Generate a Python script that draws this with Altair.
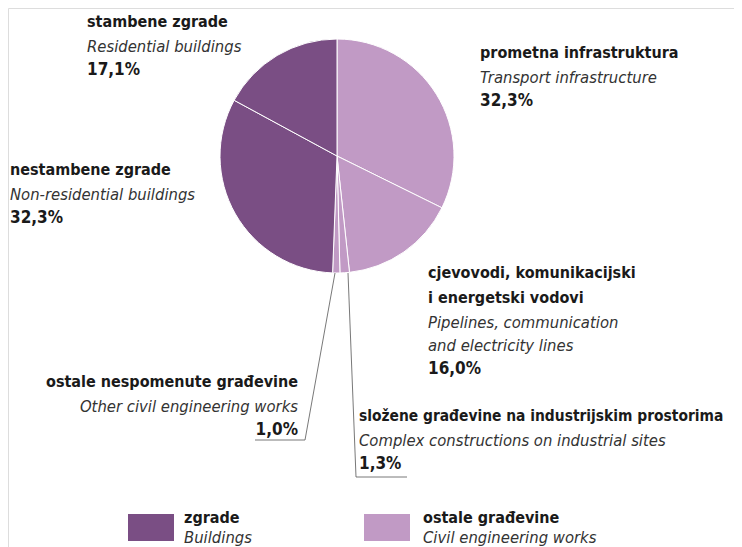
import altair as alt
import pandas as pd

# ---- data ----
categories_hr = ["prometna infrastruktura", "cjevovodi, komunikacijski\ni energetski vodovi",
                 "složene građevine na industrijskim prostorima", "ostale nespomenute građevine",
                 "nestambene zgrade", "stambene zgrade"]
categories_en = ["Transport infrastructure", "Pipelines, communication\nand electricity lines",
                 "Complex constructions on industrial sites", "Other civil engineering works",
                 "Non-residential buildings", "Residential buildings"]
values = [32.3, 16.0, 1.3, 1.0, 32.3, 17.1]
groups = ["ostale građevine", "ostale građevine", "ostale građevine", "ostale građevine", "zgrade", "zgrade"]
group_hr = ["zgrade", "ostale građevine"]
group_en = ["Buildings", "Civil engineering works"]

DARK = "#7a4e84"
LIGHT = "#c19ac5"
TXT = "#1a1a1a"
FONT = "DejaVu Sans Condensed"
FS_B = 16
FS_I = 16.5

W, H = 726, 539
def P(v):  # page coordinate -> chart coordinate
    return v - 8

pie_df = pd.DataFrame({"value": values, "group": groups, "idx": list(range(len(values)))})

pie = alt.Chart(pie_df).mark_arc(outerRadius=117, stroke="white", strokeWidth=1).encode(
    theta=alt.Theta("value:Q", stack=True),
    order=alt.Order("idx:Q"),
    color=alt.Color("group:N", scale=alt.Scale(domain=group_hr, range=[DARK, LIGHT]), legend=None),
    x=alt.value(P(337)),
    y=alt.value(P(156)),
)

# label layout (positions are layout, not data): x, first baseline, align, bold size
label_layout = {
    0: (480, 58, "left", FS_B),
    1: (428, 278, "left", FS_B),
    2: (359, 421, "left", 15.4),
    3: (298, 387, "right", FS_B),
    4: (10, 175, "left", FS_B),
    5: (87, 27, "left", FS_B),
}
LINE = 24

rows_bold, rows_ital, rows_pct = [], [], []
for i in range(len(values)):
    x, y0, al, fsb = label_layout[i]
    y = y0
    for ln in categories_hr[i].split("\n"):
        rows_bold.append({"x": P(x), "y": P(y), "t": ln, "al": al, "fs": fsb})
        y += LINE + 1
    for ln in categories_en[i].split("\n"):
        rows_ital.append({"x": P(x), "y": P(y), "t": ln, "al": al, "fs": FS_I})
        y += LINE - 1
    rows_pct.append({"x": P(x), "y": P(y), "t": f"{values[i]:.1f}".replace(".", ",") + "%",
                     "al": al, "fs": FS_B + 1})

def text_layers(rows, weight, style, color):
    out = []
    df_all = pd.DataFrame(rows)
    for (al, fs), df in df_all.groupby(["al", "fs"]):
        out.append(alt.Chart(df).mark_text(align=al, baseline="alphabetic", font=FONT, fontSize=fs,
                                           fontWeight=weight, fontStyle=style, color=color).encode(
            x=alt.X("x:Q", scale=None), y=alt.Y("y:Q", scale=None), text="t:N"))
    return out

texts = (text_layers(rows_bold, "bold", "normal", TXT)
         + text_layers(rows_ital, "normal", "italic", "#333333")
         + text_layers(rows_pct, "bold", "normal", TXT))

# leader lines
leader_df = pd.DataFrame({
    "x": [P(335), P(305), P(348), P(356)],
    "y": [P(273), P(440), P(273), P(477)],
    "x2": [P(305), P(255), P(356), P(407)],
    "y2": [P(440), P(440), P(477), P(477)],
})
leaders = alt.Chart(leader_df).mark_rule(color="#555555", strokeWidth=0.8).encode(
    x=alt.X("x:Q", scale=None), y=alt.Y("y:Q", scale=None),
    x2="x2:Q", y2="y2:Q")

# legend
leg_df = pd.DataFrame({
    "group": group_hr,
    "x": [P(128), P(364)], "x2": [P(174), P(410)],
    "y": [P(514), P(514)], "y2": [P(541), P(541)],
})
leg_rect = alt.Chart(leg_df).mark_rect().encode(
    x=alt.X("x:Q", scale=None), x2="x2:Q", y=alt.Y("y:Q", scale=None), y2="y2:Q",
    color=alt.Color("group:N", scale=alt.Scale(domain=group_hr, range=[DARK, LIGHT]), legend=None))
leg_txt_df = pd.DataFrame({"x": [P(184), P(423)], "y1": [P(523), P(523)], "y2": [P(543), P(543)],
                           "hr": group_hr, "en": group_en})
leg_t1 = alt.Chart(leg_txt_df).mark_text(align="left", baseline="alphabetic", font=FONT, fontSize=FS_B,
                                         fontWeight="bold", color=TXT).encode(
    x=alt.X("x:Q", scale=None), y=alt.Y("y1:Q", scale=None), text="hr:N")
leg_t2 = alt.Chart(leg_txt_df).mark_text(align="left", baseline="alphabetic", font=FONT, fontSize=FS_I,
                                         fontStyle="italic", color="#333333").encode(
    x=alt.X("x:Q", scale=None), y=alt.Y("y2:Q", scale=None), text="en:N")

chart = alt.layer(pie, leaders, *texts, leg_rect, leg_t1, leg_t2).properties(
    width=W, height=H, autosize=alt.AutoSizeParams(type="none"), padding=0
).configure_view(stroke=None).configure(background="white")

chart.save("out.html", embed_options={"renderer": "svg", "actions": False})
